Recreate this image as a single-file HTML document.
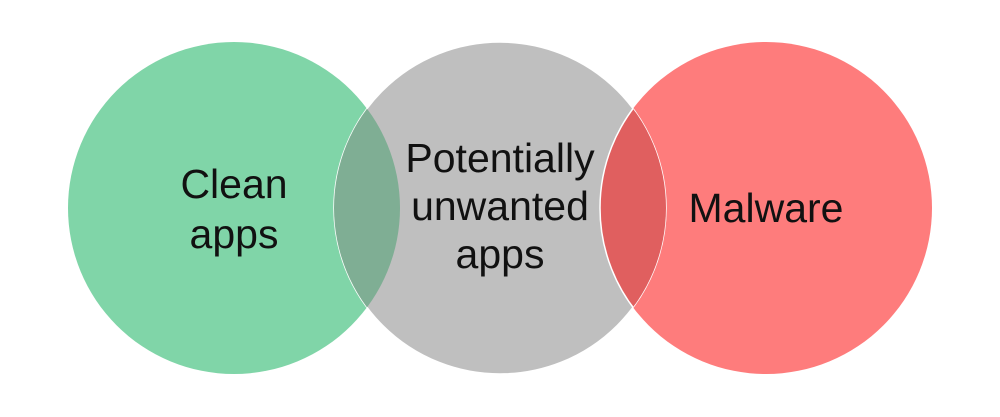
<!DOCTYPE html>
<html><head><style>
html,body{margin:0;padding:0;background:#fff;}
svg{display:block;}
text{font-family:"Liberation Sans",sans-serif;font-size:41px;fill:#111;}
</style></head><body>
<svg width="1000" height="417" xmlns="http://www.w3.org/2000/svg">
<defs>
<clipPath id="cg"><circle cx="500" cy="208" r="166"/></clipPath>
</defs>
<circle cx="234" cy="208" r="166" fill="#80d5a8"/>
<circle cx="766" cy="208" r="166" fill="#fe7c7c"/>
<circle cx="500" cy="208" r="166" fill="#bfbfbf" stroke="#fff" stroke-width="1.5"/>
<g clip-path="url(#cg)">
<circle cx="234" cy="208" r="166" fill="#7fae94"/>
<circle cx="766" cy="208" r="166" fill="#e05f5f" stroke="#fff" stroke-width="1.5"/>
</g>
<text x="234" y="198" text-anchor="middle">Clean</text>
<text x="234" y="248" text-anchor="middle">apps</text>
<text x="500" y="172" text-anchor="middle">Potentially</text>
<text x="500" y="220" text-anchor="middle">unwanted</text>
<text x="500" y="268" text-anchor="middle">apps</text>
<text x="766" y="222" text-anchor="middle">Malware</text>
</svg>
</body></html>
